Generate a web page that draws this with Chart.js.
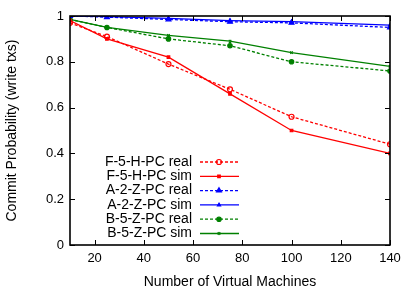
<!DOCTYPE html>
<html>
<head>
<meta charset="utf-8">
<script src="https://cdn.jsdelivr.net/npm/chart.js@4/dist/chart.umd.min.js"></script>
<style>
  html, body { margin: 0; padding: 0; background: #fff; }
  #wrap { width: 415px; height: 291px; }
</style>
</head>
<body>
<div id="wrap"><canvas id="commitChart"></canvas></div>
<script>
const vms = [10, 25, 50, 75, 100, 140];

const f5hReal = [0.97, 0.91, 0.79, 0.68, 0.56, 0.44];
const f5hSim  = [0.98, 0.90, 0.82, 0.66, 0.50, 0.40];
const a2zReal = [1.00, 0.995, 0.985, 0.975, 0.97, 0.95];
const a2zSim  = [1.00, 0.997, 0.99, 0.98, 0.975, 0.96];
const b5zReal = [0.985, 0.95, 0.90, 0.87, 0.80, 0.76];
const b5zSim  = [0.985, 0.95, 0.915, 0.89, 0.84, 0.78];

const xTicks = [20, 40, 60, 80, 100, 120, 140];
const yTicks = [0, 0.2, 0.4, 0.6, 0.8, 1];

const FONT = '"Liberation Sans", Arial, sans-serif';

const toPoints = ys => ys.map((y, i) => ({ x: vms[i], y: y }));

function series(label, ys, color, dashed, style, radius, filled) {
    return {
        label: label,
        data: toPoints(ys),
        borderColor: color,
        backgroundColor: filled ? color : 'rgba(0,0,0,0)',
        borderWidth: 1.3,
        borderDash: dashed ? [3, 2] : [],
        pointStyle: style,
        pointRadius: radius,
        pointBorderWidth: 1.2,
        pointBorderColor: color,
        pointBackgroundColor: filled ? color : 'rgba(0,0,0,0)',
        tension: 0
    };
}

// gnuplot-like frame, inward ticks on all four sides, and legend bottom-left
const frame = {
    id: 'frame',
    afterDatasetsDraw(chart) {
        const ctx = chart.ctx;
        const a = chart.chartArea;
        const xs = chart.scales.x, ys = chart.scales.y;
        ctx.save();
        ctx.strokeStyle = '#000';
        ctx.lineWidth = 1;
        ctx.beginPath();
        xTicks.forEach(v => {
            const px = Math.round(xs.getPixelForValue(v)) + 0.5;
            ctx.moveTo(px, a.bottom); ctx.lineTo(px, a.bottom - 5);
            ctx.moveTo(px, a.top); ctx.lineTo(px, a.top + 5);
        });
        yTicks.forEach(v => {
            const py = Math.round(ys.getPixelForValue(v)) + 0.5;
            ctx.moveTo(a.left, py); ctx.lineTo(a.left + 5, py);
            ctx.moveTo(a.right, py); ctx.lineTo(a.right - 5, py);
        });
        ctx.stroke();
        ctx.lineWidth = 1.6;
        ctx.strokeRect(a.left, a.top, a.right - a.left, a.bottom - a.top);

        // legend
        ctx.font = '14px ' + FONT;
        ctx.fillStyle = '#000';
        ctx.textAlign = 'right';
        ctx.textBaseline = 'middle';
        chart.data.datasets.forEach((ds, i) => {
            const y = 162 + i * 14.3;
            ctx.fillText(ds.label, 192, y);
            ctx.save();
            ctx.strokeStyle = ds.borderColor;
            ctx.lineWidth = ds.borderWidth;
            ctx.setLineDash(ds.borderDash);
            ctx.beginPath();
            ctx.moveTo(200, y); ctx.lineTo(239, y);
            ctx.stroke();
            ctx.setLineDash([]);
            ctx.fillStyle = ds.pointBackgroundColor;
            ctx.strokeStyle = ds.pointBorderColor;
            ctx.lineWidth = ds.pointBorderWidth;
            Chart.helpers.drawPoint(ctx, {
                pointStyle: ds.pointStyle,
                radius: ds.pointRadius,
                rotation: 0,
                borderWidth: ds.pointBorderWidth
            }, 219, y);
            ctx.restore();
        });
        ctx.restore();
    }
};

const ctx = document.getElementById('commitChart').getContext('2d');
new Chart(ctx, {
    type: 'line',
    data: {
        datasets: [
            series('F-5-H-PC real', f5hReal, '#ff0000', true, 'circle', 2.5, false),
            series('F-5-H-PC sim', f5hSim, '#ff0000', false, 'rect', 1.8, true),
            series('A-2-Z-PC real', a2zReal, '#0000ff', true, 'triangle', 2.8, true),
            series('A-2-Z-PC sim', a2zSim, '#0000ff', false, 'triangle', 1.8, true),
            series('B-5-Z-PC real', b5zReal, '#008000', true, 'circle', 2.2, true),
            series('B-5-Z-PC sim', b5zSim, '#008000', false, 'crossRot', 1.8, true)
        ]
    },
    options: {
        responsive: true,
        maintainAspectRatio: false,
        animation: false,
        layout: { padding: { top: 16, right: 25, left: 4, bottom: 0 } },
        plugins: {
            legend: { display: false },
            tooltip: { enabled: false }
        },
        scales: {
            x: {
                type: 'linear',
                min: 10,
                max: 140,
                afterBuildTicks: s => { s.ticks = xTicks.map(v => ({ value: v })); },
                afterFit: s => { s.height = 46; },
                grid: { display: false, drawTicks: false },
                border: { display: false },
                ticks: {
                    padding: 6,
                    color: '#000',
                    font: { family: FONT, size: 13 }
                },
                title: {
                    display: true,
                    text: 'Number of Virtual Machines',
                    color: '#000',
                    padding: { top: 3, bottom: 0 },
                    font: { family: FONT, size: 14 }
                }
            },
            y: {
                min: 0,
                max: 1,
                afterBuildTicks: s => { s.ticks = yTicks.map(v => ({ value: v })); },
                afterFit: s => { s.width = 66; },
                grid: { display: false, drawTicks: false },
                border: { display: false },
                ticks: {
                    padding: 6,
                    color: '#000',
                    callback: v => String(v),
                    font: { family: FONT, size: 13 }
                },
                title: {
                    display: true,
                    text: 'Commit Probability (write txs)',
                    color: '#000',
                    padding: { top: 0, bottom: 0 },
                    font: { family: FONT, size: 14 }
                }
            }
        }
    },
    plugins: [frame]
});
</script>
</body>
</html>
